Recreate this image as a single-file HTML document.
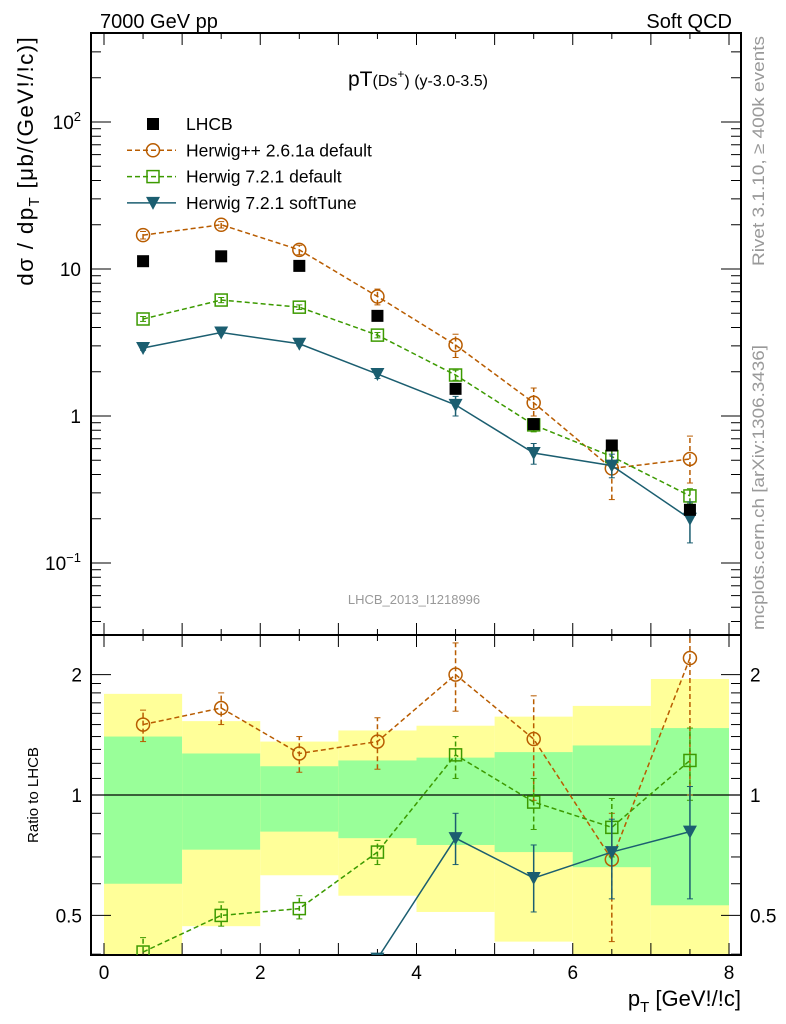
<!DOCTYPE html>
<html><head><meta charset="utf-8"><style>
body{margin:0;background:#fff}
svg{display:block;font-family:"Liberation Sans",sans-serif}
</style></head><body>
<svg id="c" width="786" height="1024" viewBox="0 0 786 1024">
<text x="100" y="28" font-size="20">7000 GeV pp</text>
<text x="732" y="28" font-size="20" text-anchor="end">Soft QCD</text>
<text x="418" y="86" font-size="21" text-anchor="middle">pT<tspan font-size="16">(Ds<tspan dy="-8" font-size="12">+</tspan><tspan dy="8">) (y-3.0-3.5)</tspan></tspan></text>
<text x="414" y="604" font-size="13" fill="#999" text-anchor="middle">LHCB_2013_I1218996</text>
<text transform="translate(764,36) rotate(-90)" font-size="16.5" fill="#999" text-anchor="end" textLength="230" lengthAdjust="spacingAndGlyphs">Rivet 3.1.10, ≥ 400k events</text>
<text transform="translate(764,630) rotate(-90)" font-size="16.5" fill="#999" text-anchor="start" textLength="285" lengthAdjust="spacingAndGlyphs">mcplots.cern.ch [arXiv:1306.3436]</text>
<text transform="translate(33,36) rotate(-90)" font-size="22.5" text-anchor="end" letter-spacing="1.3">dσ / dp<tspan font-size="15" dy="6">T</tspan><tspan dy="-6"> [μb/(GeV!/!c)]</tspan></text>
<text transform="translate(38,795) rotate(-90)" font-size="15" text-anchor="middle">Ratio to LHCB</text>
<text x="741" y="1006" font-size="22" text-anchor="end">p<tspan font-size="15" dy="6">T</tspan><tspan dy="-6"> [GeV!/!c]</tspan></text>
<g id="legend"></g>
<g id="g"></g>
</svg>
<script>
const xs=[0.5,1.5,2.5,3.5,4.5,5.5,6.5,7.5];
const lhcb=[11.3,12.2,10.5,4.8,1.53,0.88,0.63,0.23];
const hpp=[17,20,13.5,6.5,3.04,1.23,0.44,0.51];
const hppLo=[16,19,12.5,5.7,2.5,1.0,0.27,0.35];
const hppHi=[18,21,14.5,7.3,3.6,1.55,0.58,0.73];
const h72=[4.57,6.15,5.5,3.55,1.9,0.87,0.53,0.286];
const h72Lo=[4.4,5.9,5.3,3.4,1.75,0.78,0.47,0.255];
const h72Hi=[4.75,6.4,5.7,3.7,2.05,0.96,0.6,0.32];
const soft=[2.9,3.7,3.1,1.93,1.19,0.56,0.46,0.2];
const softLo=[2.8,3.6,3.0,1.8,1.0,0.47,0.38,0.137];
const softHi=[3.0,3.8,3.2,2.06,1.36,0.65,0.55,0.26];
const rHpp=[1.5,1.65,1.27,1.36,2.0,1.38,0.69,2.2];
const rHppLo=[1.36,1.5,1.14,1.16,1.62,0.97,0.43,1.0];
const rHppHi=[1.63,1.8,1.4,1.56,2.4,1.77,0.9,2.6];
const rH72=[0.405,0.5,0.52,0.72,1.26,0.96,0.83,1.22];
const rH72Lo=[0.37,0.47,0.49,0.67,1.1,0.82,0.7,0.97];
const rH72Hi=[0.44,0.54,0.56,0.77,1.4,1.1,0.98,1.47];
const rSoft=[0.26,0.3,0.3,0.39,0.78,0.62,0.72,0.81];
const rSoftLo=[0.25,0.29,0.29,0.37,0.67,0.51,0.55,0.55];
const rSoftHi=[0.27,0.31,0.31,0.4,0.9,0.75,0.87,1.05];
const binEdges=[0,1,2,3,4,5,6,7,8];
const totLo=[0.3,0.47,0.63,0.56,0.51,0.43,0.3,0.3];
const totHi=[1.79,1.53,1.36,1.45,1.49,1.57,1.67,1.95];
const statLo=[0.6,0.73,0.81,0.78,0.75,0.72,0.66,0.53];
const statHi=[1.4,1.27,1.18,1.22,1.24,1.28,1.33,1.47];
const xTicks=[0,2,4,6,8];
const NS="http://www.w3.org/2000/svg";
const g=document.getElementById('g');
const L=91,R=741,T1=33,B1=635,B2=955;
const X=v=>104+(729-104)*v/8;
const Y=v=>416-147*Math.log10(v);
const YR=v=>795-400*Math.log10(v);
function el(t,a,p){const e=document.createElementNS(NS,t);for(const k in a)e.setAttribute(k,a[k]);(p||g).appendChild(e);return e;}
const defs=el('defs',{});
const c1=el('clipPath',{id:'cm'},defs);el('rect',{x:L,y:T1,width:R-L,height:B1-T1},c1);
const c2=el('clipPath',{id:'cr'},defs);el('rect',{x:L,y:B1,width:R-L,height:B2-B1},c2);
const bands=el('g',{'clip-path':'url(#cr)'});


for(let i=0;i<8;i++){
 const r1=el('rect',{x:X(binEdges[i]),width:X(binEdges[i+1])-X(binEdges[i]),y:YR(totHi[i]),height:YR(totLo[i])-YR(totHi[i]),fill:'#ffff99'},bands);
 
 
 const r2=el('rect',{x:X(binEdges[i]),width:X(binEdges[i+1])-X(binEdges[i]),y:YR(statHi[i]),height:YR(statLo[i])-YR(statHi[i]),fill:'#99ff99'},bands);
 
 
}
el('line',{x1:L,x2:R,y1:YR(1),y2:YR(1),stroke:'#000','stroke-width':1.2});
const f1=el('rect',{x:L,y:T1,width:R-L,height:B1-T1,fill:'none',stroke:'#000','stroke-width':2});


const f2=el('rect',{x:L,y:B1,width:R-L,height:B2-B1,fill:'none',stroke:'#000','stroke-width':2});


for(let v=0;v<=8.001;v+=0.5){const maj=Math.abs(v-Math.round(v))<1e-6;const len=maj?12:6;
 for(const [t,b] of [[T1,B1],[B1,B2]]){el('line',{x1:X(v),x2:X(v),y1:b,y2:b-len,stroke:'#000'});el('line',{x1:X(v),x2:X(v),y1:t,y2:t+len,stroke:'#000'});}}
xTicks.forEach(v=>{const t=el('text',{x:X(v),y:979,'font-size':19,'text-anchor':'middle'});t.textContent=v;
 
 });
for(let d=-2;d<=2;d++)for(let m=1;m<10;m++){const v=m*Math.pow(10,d);const y=Y(v);if(y<T1||y>B1)continue;const len=m==1?20:10;
 el('line',{x1:L,x2:L+len,y1:y,y2:y,stroke:'#000'});el('line',{x1:R,x2:R-len,y1:y,y2:y,stroke:'#000'});}
[[100,'10','2'],[10,'10',''],[1,'1',''],[0.1,'10','−1']].forEach(([v,b,e])=>{const t=el('text',{x:81,y:Y(v)+7,'font-size':19,'text-anchor':'end'});
 t.textContent=b;if(e){const s=el('tspan',{dy:-8,'font-size':13},t);s.textContent=e;}
 
 });
for(let v=0.4;v<=2.5;v+=(v<1.999?0.1:0.5)){const y=YR(v);if(y<B1||y>B2)continue;const maj=[0.5,1,2].some(q=>Math.abs(q-v)<1e-6);const len=maj?20:10;
 el('line',{x1:L,x2:L+len,y1:y,y2:y,stroke:'#000'});el('line',{x1:R,x2:R-len,y1:y,y2:y,stroke:'#000'});}
[[2,'2'],[1,'1'],[0.5,'0.5']].forEach(([v,s])=>{const a=el('text',{x:82,y:YR(v)+7,'font-size':19,'text-anchor':'end'});a.textContent=s;
 
 
 const b=el('text',{x:750,y:YR(v)+7,'font-size':19});b.textContent=s;
 
 });
function marker(type,x,y,col,p){
 if(type=='sq')return el('rect',{x:x-6,y:y-6,width:12,height:12,fill:'#000'},p);
 if(type=='circ')return el('circle',{cx:x,cy:y,r:6.5,fill:'none',stroke:col,'stroke-width':1.5},p);
 if(type=='osq')return el('rect',{x:x-6,y:y-6,width:12,height:12,fill:'none',stroke:col,'stroke-width':1.5},p);
 return el('path',{d:`M${x-7},${y-6}L${x+7},${y-6}L${x},${y+7}Z`,fill:col},p);}
function series(name,vals,lo,hi,Yf,col,dash,type,clip,line){
 const s=el('g',{'clip-path':`url(#${clip})`});
 
 
 if(line)el('polyline',{points:xs.map((x,i)=>X(x)+','+Yf(vals[i])).join(' '),fill:'none',stroke:col,'stroke-width':1.5,'stroke-dasharray':dash},s);
 xs.forEach((x,i)=>{if(lo){el('line',{x1:X(x),x2:X(x),y1:Yf(lo[i]),y2:Yf(hi[i]),stroke:col,'stroke-width':1.5,'stroke-dasharray':dash},s);
  el('line',{x1:X(x)-3,x2:X(x)+3,y1:Yf(lo[i]),y2:Yf(lo[i]),stroke:col},s);el('line',{x1:X(x)-3,x2:X(x)+3,y1:Yf(hi[i]),y2:Yf(hi[i]),stroke:col},s);}
  const m=marker(type,X(x),Yf(vals[i]),col,s);
  
  });}
const OR='#b85c00',GR='#3c9a00',BL='#1b5e70';
series('herwigpp-series',hpp,hppLo,hppHi,Y,OR,'5,3','circ','cm',true);
series('herwig721-default-series',h72,h72Lo,h72Hi,Y,GR,'5,3','osq','cm',true);
series('herwig721-softtune-series',soft,softLo,softHi,Y,BL,'','tri','cm',true);
series('lhcb-data-series',lhcb,null,null,Y,'#000','','sq','cm',false);
series('herwigpp-ratio',rHpp,rHppLo,rHppHi,YR,OR,'5,3','circ','cr',true);
series('herwig721-default-ratio',rH72,rH72Lo,rH72Hi,YR,GR,'5,3','osq','cr',true);
series('herwig721-softtune-ratio',rSoft,rSoftLo,rSoftHi,YR,BL,'','tri','cr',true);
const lg=document.getElementById('legend');
const items=[['LHCB','sq','#000',''],['Herwig++ 2.6.1a default','circ',OR,'5,3'],['Herwig 7.2.1 default','osq',GR,'5,3'],['Herwig 7.2.1 softTune','tri',BL,'']];
items.forEach((it,i)=>{const y=124+i*26.3;const e=el('g',{},lg);
 
 
 if(i>0)el('line',{x1:127,x2:176,y1:y,y2:y,stroke:it[2],'stroke-width':1.5,'stroke-dasharray':it[3]},e);
 marker(it[1],153,y,it[2],e);
 const t=el('text',{x:186,y:y+6,'font-size':17.5},e);t.textContent=it[0];});
</script>
</body></html>
